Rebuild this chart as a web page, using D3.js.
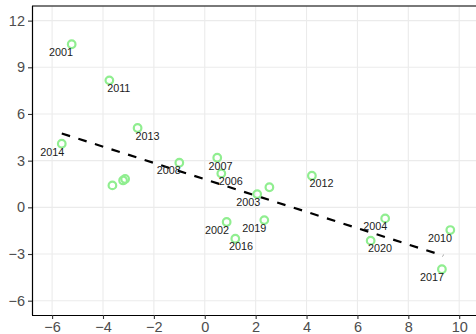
<!DOCTYPE html>
<html>
<head>
<meta charset="utf-8">
<script src="https://cdn.jsdelivr.net/npm/d3@7"></script>
<style>
  html, body { margin: 0; padding: 0; background: #fff; }
  svg { display: block; }
</style>
</head>
<body>
<svg id="chart" width="476" height="334"></svg>
<script>
// Observations: x value, y value and the year label shown beside each point
// (an empty label means the point is drawn without text).
const pointX = [-5.23, -3.75, -2.64, -5.62, -3.63, -3.21, -3.13, -1.00, 0.49, 0.65,
                2.06, 2.54, 0.86, 2.34, 1.20, 4.21, 7.09, 6.52, 9.65, 9.32];
const pointY = [10.48, 8.16, 5.10, 4.09, 1.41, 1.73, 1.82, 2.87, 3.19, 2.18,
                0.85, 1.29, -0.94, -0.82, -2.02, 2.03, -0.71, -2.14, -1.46, -3.98];
const pointLabels = ["2001", "2011", "2013", "2014", "", "", "", "2008", "2007", "2006",
                     "2003", "", "2002", "2019", "2016", "2012", "2004", "2020", "2010", "2017"];

// Linear trend: intercept, slope and the x span it is drawn over.
const trendIntercept = 1.805;
const trendSlope = -0.524;
const trendRange = [-5.62, 9.37];

// Axis ticks.
const xTicks = [-6, -4, -2, 0, 2, 4, 6, 8, 10];
const yTicks = [-6, -3, 0, 3, 6, 9, 12];

// Label placement (pixel offsets of the label centre from its point).
const labelOffset = {
  "2001": [-10.7, 7.4], "2011": [9.4, 7.4], "2013": [10, 7.7], "2014": [-9.4, 8],
  "2008": [-10.6, 7.3], "2007": [3.4, 8], "2006": [9.4, 7.4], "2003": [-9, 7.7],
  "2002": [-9.7, 8], "2019": [-10, 7.7], "2016": [5.7, 7.3], "2012": [9.7, 7],
  "2004": [-10, 7.7], "2020": [9.3, 7.3], "2010": [-10.3, 7.7], "2017": [-10, 7.4]
};

const svg = d3.select("#chart");
const W = 476, H = 334;
const panel = { left: 32, top: 6, right: 476, bottom: 315 };
const font = "'Liberation Sans', Arial, Helvetica, sans-serif";

const x = d3.scaleLinear().domain([-6.79, 10.66]).range([panel.left, panel.right]);
const y = d3.scaleLinear().domain([-6.92, 12.94]).range([panel.bottom, panel.top]);

const data = pointX.map((v, i) => ({ x: v, y: pointY[i], label: pointLabels[i] }));

// Grid
const grid = svg.append("g");
grid.selectAll("line.vx").data(xTicks).join("line")
  .attr("x1", d => x(d)).attr("x2", d => x(d))
  .attr("y1", panel.top).attr("y2", panel.bottom)
  .attr("stroke", "#ebebeb").attr("stroke-width", 1.1);
grid.selectAll("line.hy").data(yTicks).join("line")
  .attr("y1", d => y(d)).attr("y2", d => y(d))
  .attr("x1", panel.left).attr("x2", panel.right)
  .attr("stroke", "#ebebeb").attr("stroke-width", 1.1);

// Trend line
const trend = trendRange.map(v => ({ x: v, y: trendIntercept + trendSlope * v }));
svg.append("path")
  .attr("d", d3.line().x(d => x(d.x)).y(d => y(d.y))(trend))
  .attr("fill", "none").attr("stroke", "#000").attr("stroke-width", 2.2)
  .attr("stroke-dasharray", "8.7,8.7");

// Points
svg.append("g").selectAll("circle").data(data).join("circle")
  .attr("cx", d => x(d.x)).attr("cy", d => y(d.y)).attr("r", 3.8)
  .attr("fill", "none").attr("stroke", "#90ee90").attr("stroke-width", 2.2);

// Year labels
svg.append("g").selectAll("text").data(data.filter(d => d.label)).join("text")
  .attr("x", d => x(d.x) + labelOffset[d.label][0])
  .attr("y", d => y(d.y) + labelOffset[d.label][1])
  .attr("text-anchor", "middle").attr("dominant-baseline", "central")
  .attr("font-family", font).attr("font-size", "10.8px").attr("fill", "#1a1a1a")
  .text(d => d.label);

// Panel border
svg.append("line").attr("x1", panel.left).attr("x2", W + 2)
  .attr("y1", panel.top).attr("y2", panel.top)
  .attr("stroke", "#4d4d4d").attr("stroke-width", 1.4);

// Axes
const xAxis = svg.append("g").attr("transform", `translate(0,${panel.bottom})`)
  .call(d3.axisBottom(x).tickValues(xTicks).tickSize(4).tickPadding(3));
const yAxis = svg.append("g").attr("transform", `translate(${panel.left},0)`)
  .call(d3.axisLeft(y).tickValues(yTicks).tickSize(4).tickPadding(3));

[xAxis, yAxis].forEach(g => {
  g.select(".domain").attr("stroke", "#000").attr("stroke-width", 1.2);
  g.selectAll(".tick line").attr("stroke", "#333").attr("stroke-width", 1.1);
  g.selectAll(".tick text").attr("fill", "#4d4d4d")
    .attr("font-family", font).attr("font-size", "14.5px");
});
xAxis.select(".domain").attr("d", `M${panel.left},0.5H${W + 2}`);
yAxis.select(".domain").attr("d", `M0.5,${panel.top}V${panel.bottom}`);
</script>
</body>
</html>
